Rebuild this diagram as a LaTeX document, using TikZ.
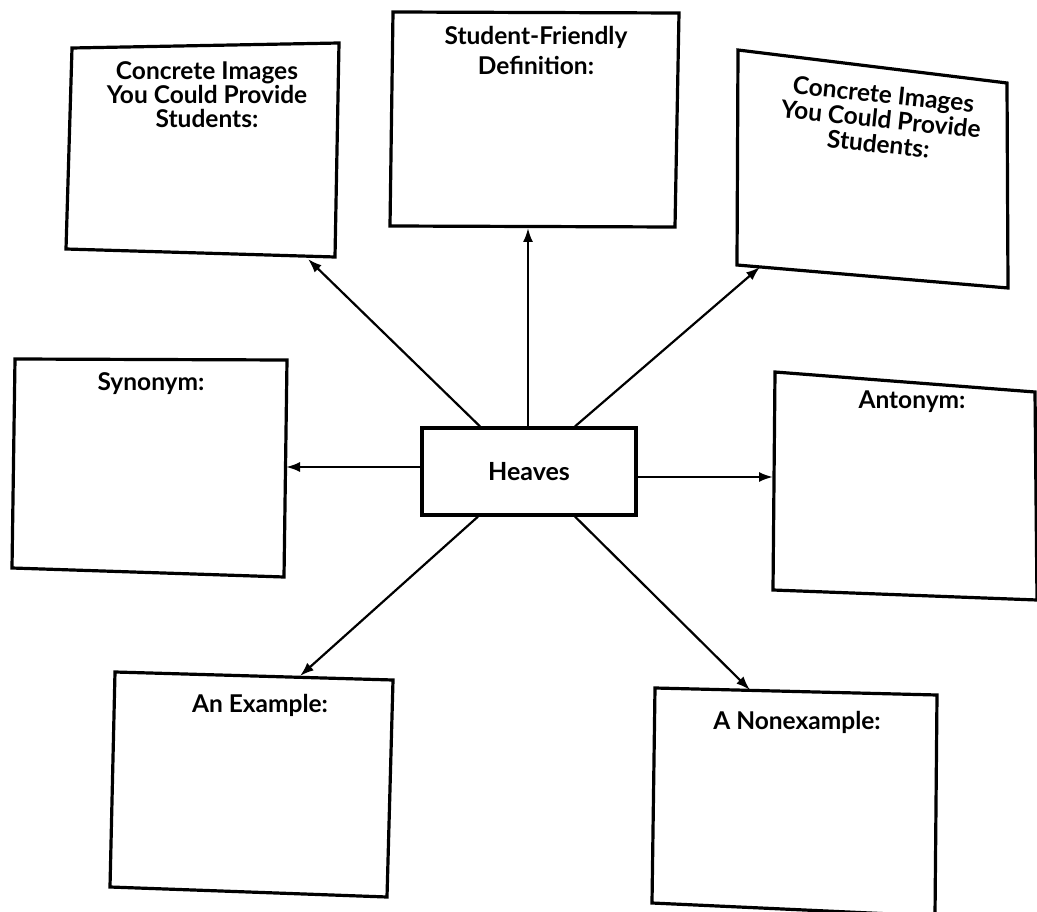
\documentclass[tikz,border=0pt]{standalone}
\usepackage{fontspec}
\setmainfont{Lato}
\usetikzlibrary{arrows.meta}
\begin{document}
\begin{tikzpicture}[x=1pt,y=-1pt,
  boxline/.style={line width=3.2pt, line join=miter},
  conn/.style={line width=2.2pt, -{Latex[length=14pt,width=10pt]}},
  lbl/.style={font=\fontsize{24.5}{24.5}\selectfont\bfseries, inner sep=0pt, anchor=base}]
\fill[white] (0,0) rectangle (1037,912);
\useasboundingbox (0,0) rectangle (1037,912);

% boxes
\draw[boxline] (72,48) -- (339,43) -- (335,257) -- (66,249) -- cycle;
\draw[boxline] (393,12) -- (679,13) -- (675,227) -- (390,226) -- cycle;
\draw[boxline] (738,50) -- (1007,83) -- (1008,288) -- (737,265) -- cycle;
\draw[boxline] (15,359) -- (287,360) -- (284,577) -- (12,568) -- cycle;
\draw[boxline] (775,372) -- (1035,392) -- (1037,600) -- (773,590) -- cycle;
\draw[boxline] (115,672) -- (393,680) -- (387,897) -- (110,887) -- cycle;
\draw[boxline] (655,688) -- (937,695) -- (935,916) -- (652,903) -- cycle;

% labels
\node[lbl] (tl1) at (207,80) {Concrete Images};
\node[lbl] (tl2) at (207,104) {You Could Provide};
\node[lbl] (tl3) at (207,128) {Students:};
\node[lbl] (tc1) at (536,45) {Student-Friendly};
\node[lbl] (tc2) at (536,75) {Definition:};
\node[font=\fontsize{24.5}{25}\selectfont\bfseries, inner sep=0pt, align=center,
  rotate=-6, anchor=center] (tr) at (881,119)
  {Concrete Images\\You Could Provide\\Students:};
\node[lbl] (syn) at (151,390) {Synonym:};
\node[lbl] (ant) at (912,408) {Antonym:};
\node[lbl] (ex) at (260,712) {An Example:};
\node[lbl] (nex) at (797,729) {A Nonexample:};

% centre
\node[draw, boxline, minimum width=214pt, minimum height=87pt, inner sep=0pt,
  font=\fontsize{25}{25}\selectfont\bfseries] (heaves) at (529,471.5) {Heaves};

% arrow ends
\coordinate (tlend) at (308,259);
\coordinate (tcend) at (528,228);
\coordinate (trend) at (760,267);
\coordinate (synend) at (286,467);
\coordinate (antend) at (773,477);
\coordinate (exend) at (300,676);
\coordinate (nexend) at (750,690);

\draw[conn] ([xshift=-49pt]heaves.north) -- (tlend);
\draw[conn] ([xshift=-1pt]heaves.north) -- (tcend);
\draw[conn] ([xshift=46pt]heaves.north) -- (trend);
\draw[conn] ([yshift=4.5pt]heaves.west) -- (synend);
\draw[conn] ([yshift=-5.5pt]heaves.east) -- (antend);
\draw[conn] ([xshift=-51pt]heaves.south) -- (exend);
\draw[conn] ([xshift=46pt]heaves.south) -- (nexend);
\end{tikzpicture}
\end{document}
